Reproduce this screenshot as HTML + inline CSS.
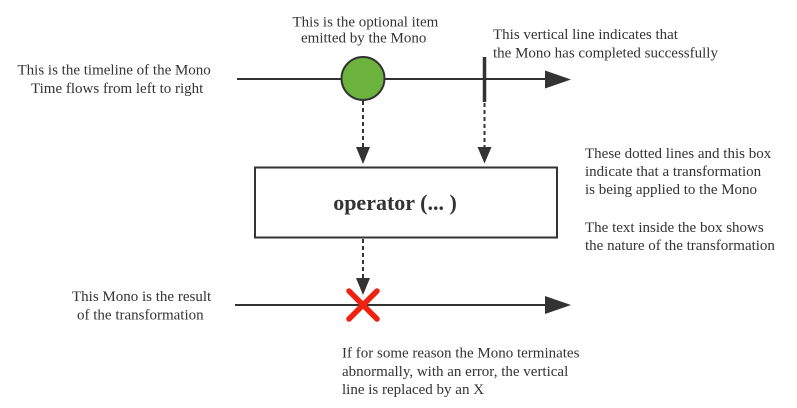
<!DOCTYPE html>
<html>
<head>
<meta charset="utf-8">
<style>
  html, body { margin: 0; padding: 0; background: #ffffff; }
  body { width: 797px; height: 408px; overflow: hidden; }
  svg { display: block; }
  text { font-family: "Liberation Serif", serif; font-size: 15px; fill: #333333; }
</style>
</head>
<body>
<svg width="797" height="408" viewBox="0 0 797 408" xmlns="http://www.w3.org/2000/svg">
  <!-- Top timeline -->
  <line x1="237" y1="79" x2="548" y2="79" stroke="#333" stroke-width="2"/>
  <polygon points="545,70.5 571,79.5 545,88.5" fill="#333"/>
  <!-- Completion bar -->
  <line x1="484.5" y1="57" x2="484.5" y2="102" stroke="#333" stroke-width="3.5"/>
  <!-- Item circle -->
  <circle cx="363" cy="78.5" r="21.5" fill="#6cb33e" stroke="#333" stroke-width="2"/>

  <!-- Dotted arrows to box -->
  <line x1="363" y1="101" x2="363" y2="148" stroke="#333" stroke-width="2" stroke-dasharray="4 3"/>
  <polygon points="356,147 370,147 363,164" fill="#333"/>
  <line x1="484.5" y1="103" x2="484.5" y2="148" stroke="#333" stroke-width="2" stroke-dasharray="4 3"/>
  <polygon points="477.5,147 491.5,147 484.5,163.5" fill="#333"/>

  <!-- Operator box -->
  <rect x="255" y="167.5" width="302" height="70" fill="#fff" stroke="#333" stroke-width="2"/>
  <text x="395" y="210" text-anchor="middle" style="font-size:22px;font-weight:bold;">operator (... )</text>

  <!-- Dotted arrow to bottom -->
  <line x1="363" y1="239" x2="363" y2="279" stroke="#333" stroke-width="2" stroke-dasharray="4 3"/>

  <!-- Bottom timeline -->
  <line x1="235" y1="305" x2="548" y2="305" stroke="#333" stroke-width="2"/>
  <polygon points="545,296 571,305 545,314" fill="#333"/>
  <polygon points="356,278 370,278 363,295" fill="#333"/>
  <!-- Error X -->
  <g stroke="#ee2211" stroke-width="5.5" stroke-linecap="round">
    <line x1="349" y1="291" x2="377" y2="319"/>
    <line x1="377" y1="291" x2="349" y2="319"/>
  </g>

  <!-- Labels -->
  <text x="292.5" y="26.5">This is the optional item</text>
  <text x="301" y="42.3">emitted by the Mono</text>

  <text x="17.5" y="74.5">This is the timeline of the Mono</text>
  <text x="31" y="93">Time flows from left to right</text>

  <text x="493" y="39">This vertical line indicates that</text>
  <text x="493" y="57.5">the Mono has completed successfully</text>

  <text x="585" y="158">These dotted lines and this box</text>
  <text x="585" y="176">indicate that a transformation</text>
  <text x="585" y="194">is being applied to the Mono</text>
  <text x="585" y="232">The text inside the box shows</text>
  <text x="585" y="250">the nature of the transformation</text>

  <text x="72" y="301">This Mono is the result</text>
  <text x="77" y="319.5">of the transformation</text>

  <text x="342" y="357.5">If for some reason the Mono terminates</text>
  <text x="342" y="376">abnormally, with an error, the vertical</text>
  <text x="342" y="394">line is replaced by an X</text>
</svg>
</body>
</html>
